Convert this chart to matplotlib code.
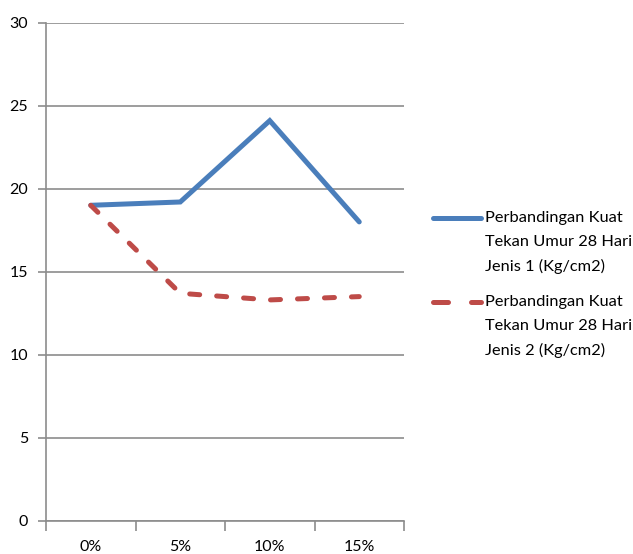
import matplotlib
matplotlib.use("Agg")
import matplotlib.pyplot as plt
from matplotlib.lines import Line2D

plt.rcParams['font.family'] = ['Lato', 'DejaVu Sans']

kategori = ['0%', '5%', '10%', '15%']
jenis1 = [19.0, 19.2, 24.1, 18.0]
jenis2 = [19.0, 13.7, 13.3, 13.5]
label1 = ['Perbandingan Kuat', 'Tekan Umur 28 Hari', 'Jenis 1 (Kg/cm2)']
label2 = ['Perbandingan Kuat', 'Tekan Umur 28 Hari', 'Jenis 2 (Kg/cm2)']

biru = '#4A7EBB'
merah = '#BE4B48'
abu = '#8C8C8C'

W, H = 633, 554
fig = plt.figure(figsize=(W / 100, H / 100), dpi=100)
ax = fig.add_axes([46 / W, (H - 520.7) / H, (404 - 46) / W, (520.7 - 22.7) / H])

x = list(range(len(kategori)))
ax.plot(x, jenis1, color=biru, lw=3.6, solid_capstyle='round', solid_joinstyle='miter', zorder=3)
ax.plot(x, jenis2, color=merah, lw=3.6, linestyle=(0, (2.0, 3.4)), dash_capstyle='round', zorder=3)

ax.set_xlim(-0.5, 3.5)
ax.set_ylim(0, 30)
ax.set_yticks(range(0, 31, 5))
ax.yaxis.grid(True, color=abu, lw=1.2)
ax.set_axisbelow(True)

# ticks on category boundaries, labels centred on categories
ax.set_xticks([-0.5, 0.5, 1.5, 2.5, 3.5])
ax.set_xticklabels([])
ax.set_xticks(x, minor=True)
ax.set_xticklabels(kategori, minor=True)
ax.tick_params(axis='x', which='major', length=7, width=1.2, color=abu, direction='out')
ax.tick_params(axis='x', which='minor', length=0, pad=14, labelsize=11.5)
ax.tick_params(axis='y', length=6, width=1.2, color=abu, direction='out', pad=7, labelsize=11.5)

for s in ['top', 'right']:
    ax.spines[s].set_visible(False)
for s in ['left', 'bottom']:
    ax.spines[s].set_color(abu)
    ax.spines[s].set_linewidth(1.2)

# legend drawn by hand, handle sits on the first text line
def entri(y0, warna, gaya, teks):
    yf = (H - y0) / H
    fig.add_artist(Line2D([433 / W, 481 / W], [yf, yf], color=warna, lw=3.6,
                          linestyle=gaya, solid_capstyle='round',
                          dash_capstyle='round'))
    for i, t in enumerate(teks):
        fig.text(485 / W, (H - y0 - 24 * i) / H, t, fontsize=11.8, va='center', ha='left')

entri(218, biru, '-', label1)
entri(302, merah, (0, (3.0, 4.6)), label2)

fig.savefig('out.png', dpi=100)
